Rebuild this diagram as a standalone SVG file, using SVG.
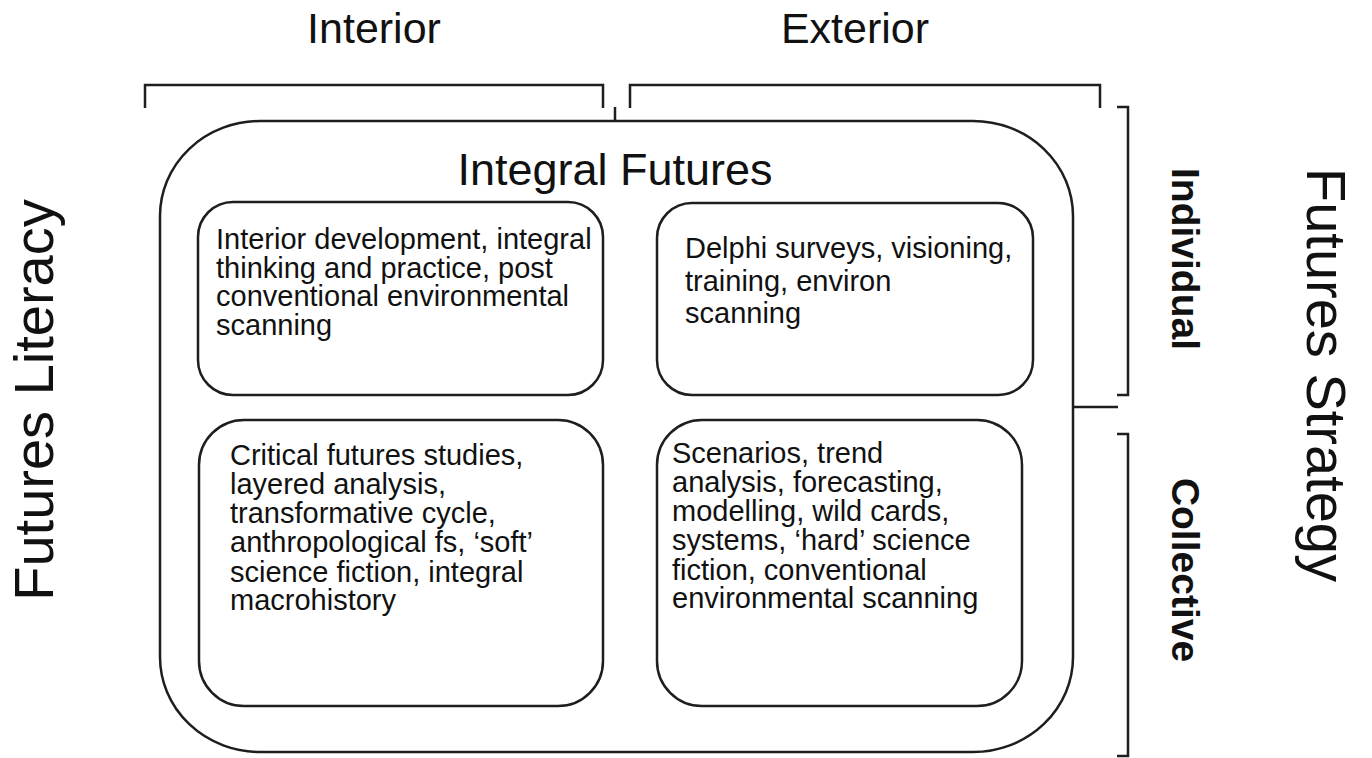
<svg xmlns="http://www.w3.org/2000/svg" width="1372" height="758" viewBox="0 0 1372 758">
<style>
.ln{fill:none;stroke:#1e1e1e;stroke-width:2.5}
.bx{fill:#fff;stroke:#1e1e1e;stroke-width:2.5}
text{font-family:"Liberation Sans",Arial,sans-serif;fill:#111}
.big{font-size:43px}
.ttl{font-size:45px}
.side{font-size:56px}
.lab{font-size:39px;font-weight:bold}
.tx{font-size:29px}
</style>
<rect width="1372" height="758" fill="#fff"/>
<g id="labels">
<text class="big" x="374" y="43" text-anchor="middle">Interior</text>
<text class="big" x="855" y="43" text-anchor="middle">Exterior</text>
<text class="side" transform="translate(53,400) rotate(-90)" text-anchor="middle">Futures Literacy</text>
<text class="side" transform="translate(1307,375) rotate(90)" text-anchor="middle">Futures Strategy</text>
<text class="lab" transform="translate(1172,259) rotate(90)" text-anchor="middle">Individual</text>
<text class="lab" transform="translate(1172,570) rotate(90)" text-anchor="middle">Collective</text>
</g>
<g id="connectors">
<path class="ln" d="M145,108 V85 H603 V108"/>
<path class="ln" d="M630,108 V85 H1100 V108"/>
<path class="ln" d="M615,107 V121"/>
<path class="ln" d="M1117,107 H1128 V395 H1117"/>
<path class="ln" d="M1073,407 H1118"/>
<path class="ln" d="M1117,434 H1128 V756 H1117"/>
</g>
<g id="integral-futures">
<rect class="bx" x="160" y="121" width="913" height="631" rx="100" ry="95"/>
<text class="ttl" x="615" y="185" text-anchor="middle">Integral Futures</text>
</g>
<g id="node-tl">
<rect class="bx" x="198" y="202" width="405" height="193" rx="35" ry="35"/>
<text class="tx"><tspan x="216" y="249">Interior development, integral</tspan><tspan x="216" y="278">thinking and practice, post</tspan><tspan x="216" y="306">conventional environmental</tspan><tspan x="216" y="335">scanning</tspan></text>
</g>
<g id="node-tr">
<rect class="bx" x="657" y="203" width="376" height="192" rx="35" ry="35"/>
<text class="tx"><tspan x="685" y="258">Delphi surveys, visioning,</tspan><tspan x="685" y="291">training, environ</tspan><tspan x="685" y="323">scanning</tspan></text>
</g>
<g id="node-bl">
<rect class="bx" x="199" y="420" width="404" height="286" rx="45" ry="45"/>
<text class="tx"><tspan x="230" y="465">Critical futures studies,</tspan><tspan x="230" y="494">layered analysis,</tspan><tspan x="230" y="523">transformative cycle,</tspan><tspan x="230" y="552">anthropological fs, ‘soft’</tspan><tspan x="230" y="582">science fiction, integral</tspan><tspan x="230" y="610">macrohistory</tspan></text>
</g>
<g id="node-br">
<rect class="bx" x="657" y="420" width="365" height="286" rx="45" ry="45"/>
<text class="tx"><tspan x="672" y="463">Scenarios, trend</tspan><tspan x="672" y="492">analysis, forecasting,</tspan><tspan x="672" y="521">modelling, wild cards,</tspan><tspan x="672" y="550">systems, ‘hard’ science</tspan><tspan x="672" y="580">fiction, conventional</tspan><tspan x="672" y="608">environmental scanning</tspan></text>
</g>
</svg>
